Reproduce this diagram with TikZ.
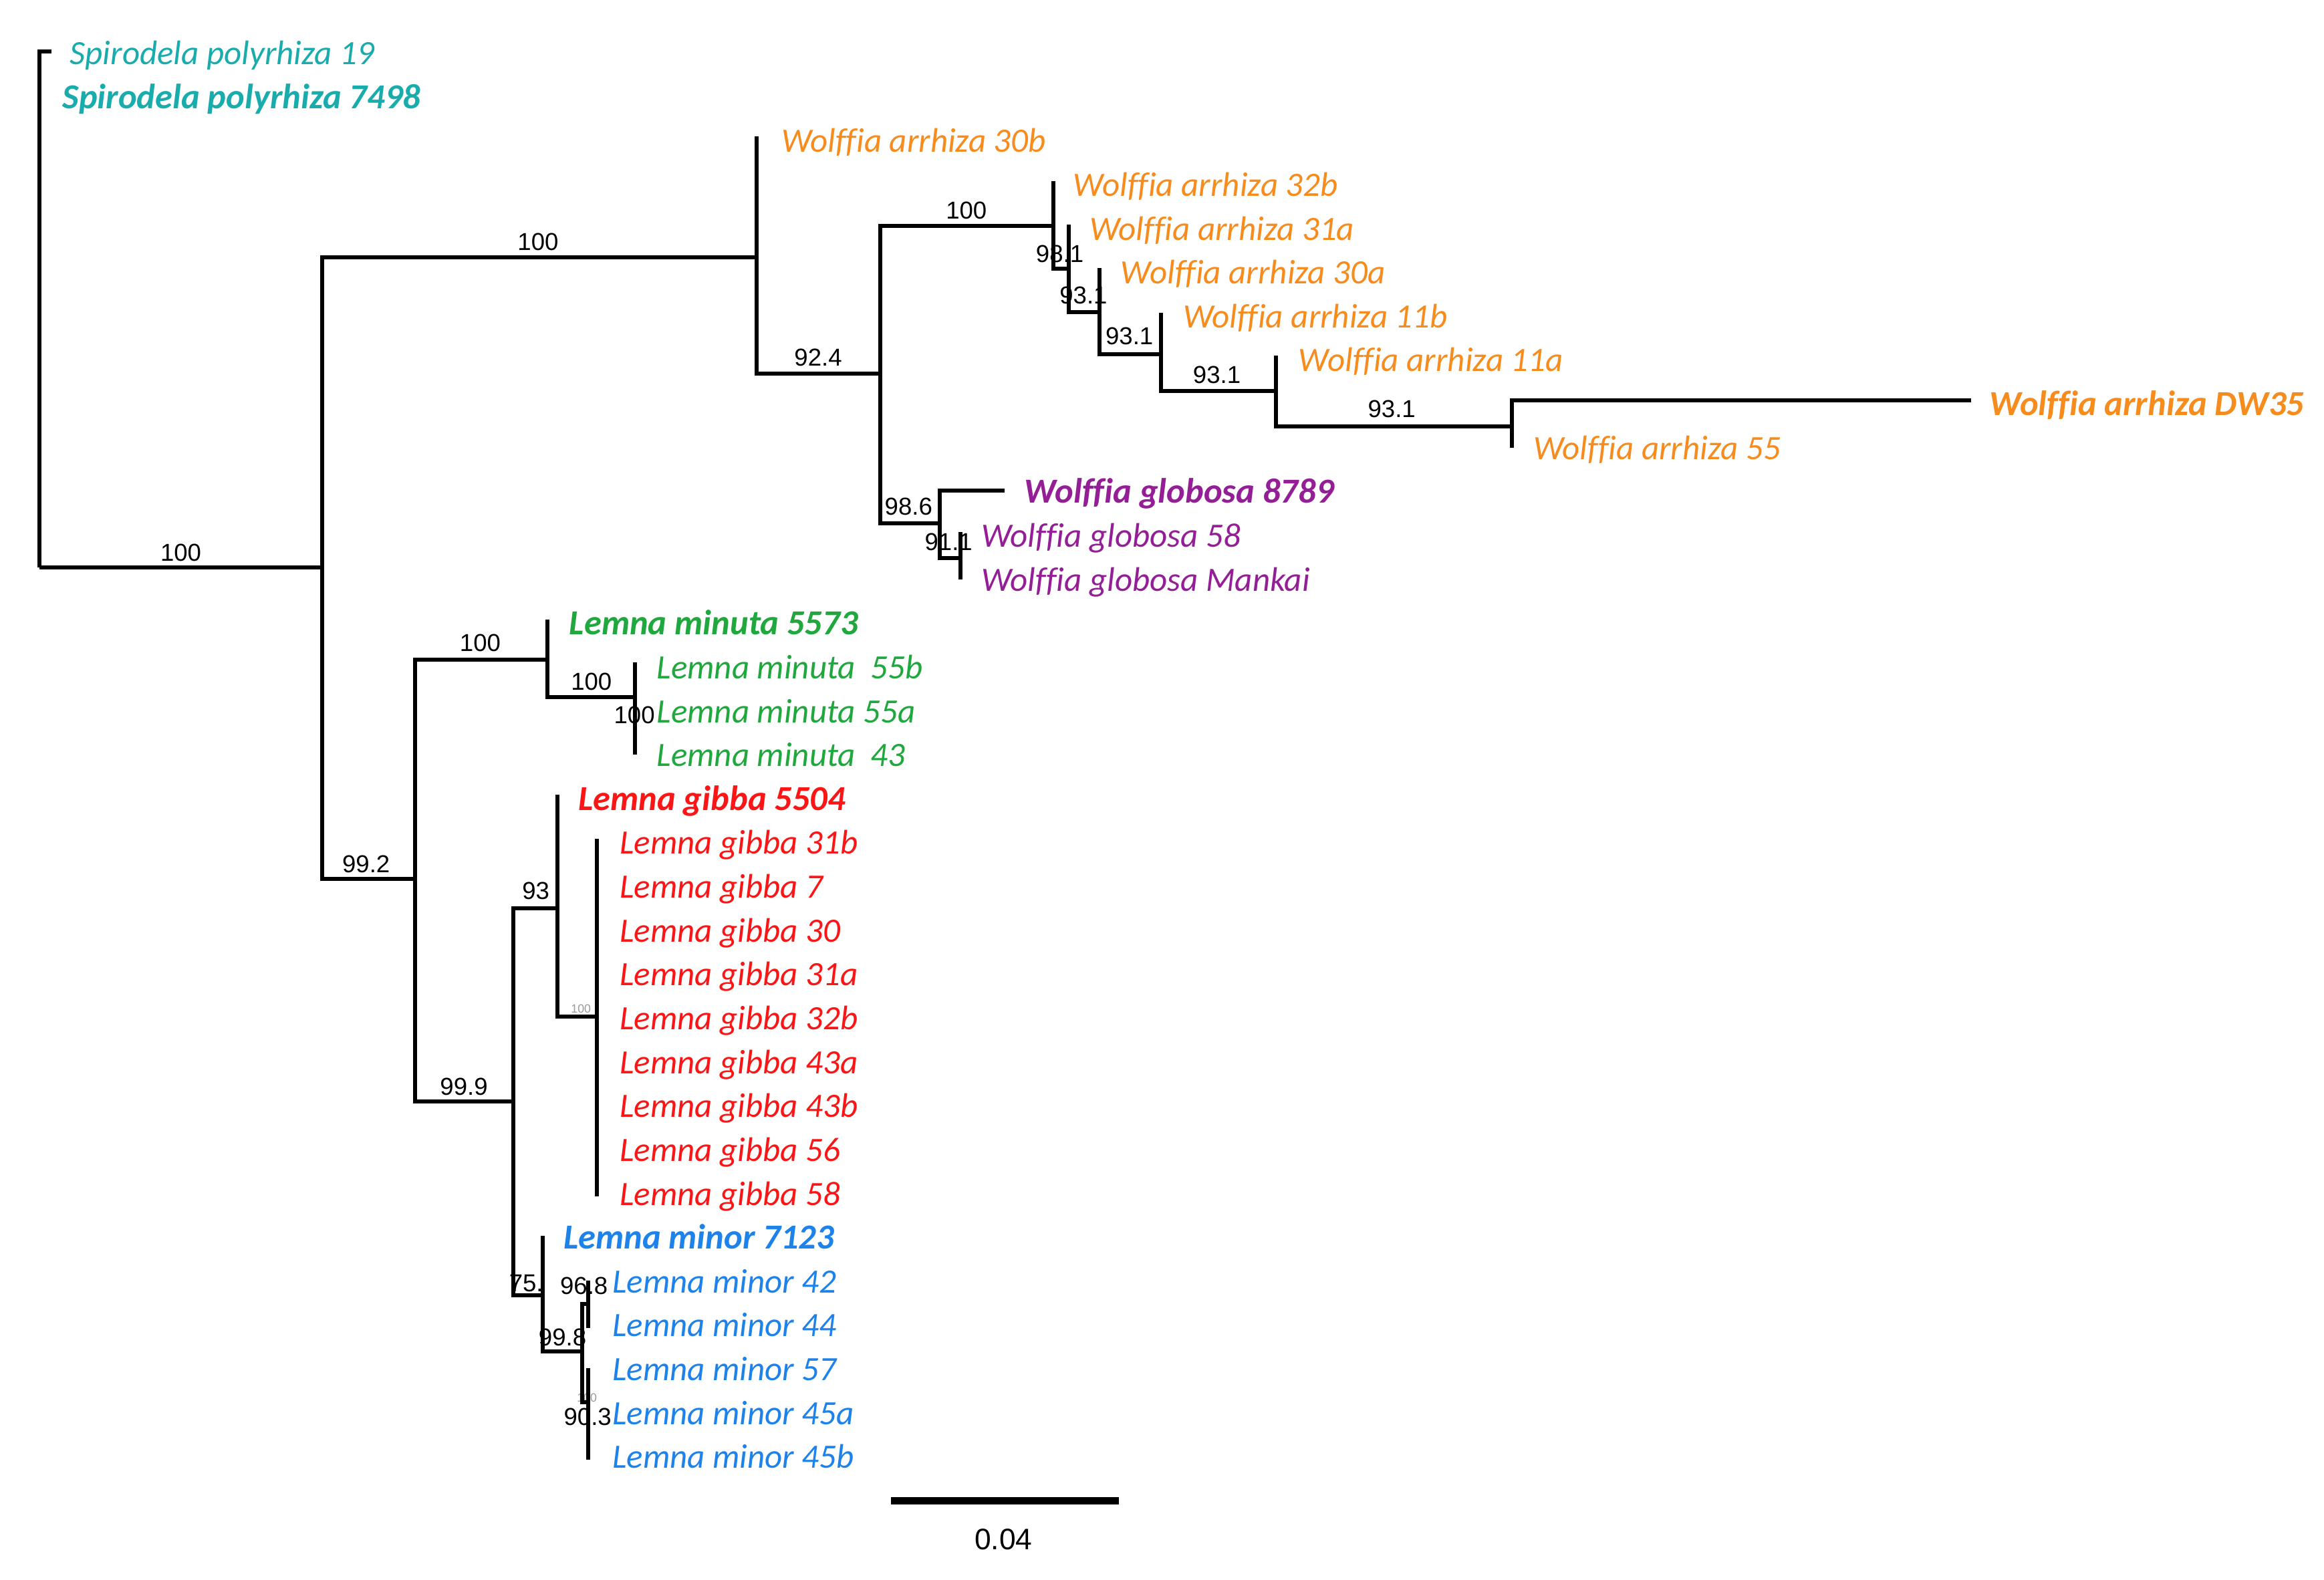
\documentclass[tikz,border=0pt]{standalone}
\usepackage{fontspec}
\setmainfont[Ligatures=NoCommon]{Carlito}
\newfontfamily\numfont{Liberation Sans}
\usetikzlibrary{positioning}

\definecolor{spcol}{RGB}{26,172,172}
\definecolor{wacol}{RGB}{247,140,30}
\definecolor{wgcol}{RGB}{148,30,150}
\definecolor{lncol}{RGB}{32,168,62}
\definecolor{lgcol}{RGB}{250,22,22}
\definecolor{lmcol}{RGB}{30,130,235}

\begin{document}
\begin{tikzpicture}[
 x=1pt,y=-1pt,
 branch/.style={draw=black,line width=2.7pt},
 leaf/.style={anchor=base west,inner sep=0pt,font=\fontsize{23}{23}\selectfont\itshape},
 keyleaf/.style={leaf,font=\fontsize{23.7}{23.7}\selectfont\itshape\bfseries},
 boot/.style={inner sep=0pt,font=\numfont\fontsize{16.5}{16.5}\selectfont},
 tinyboot/.style={inner sep=0pt,text=black!40,font=\numfont\fontsize{8}{8}\selectfont}
]
\useasboundingbox (0,0) rectangle (1568,1066);

% tree nodes and tips
\coordinate (root) at (26.5,383);
\coordinate (tSp19) at (34.5,34.5);
\coordinate (tSp7498) at (26.5,62);
\coordinate (nA) at (217.5,383);
\coordinate (nW) at (510.5,173.5);
\coordinate (tWa30b) at (510.5,92);
\coordinate (nW2) at (594,252);
\coordinate (nW3) at (710.5,152.5);
\coordinate (tWa32b) at (710.5,122);
\coordinate (nW4) at (721,181.5);
\coordinate (tWa31a) at (721,151.5);
\coordinate (nW5) at (742,210.5);
\coordinate (tWa30a) at (742,181);
\coordinate (nW6) at (783.5,239);
\coordinate (tWa11b) at (783.5,211);
\coordinate (nW7) at (861,264);
\coordinate (tWa11a) at (861,240);
\coordinate (nW8) at (1020,287.5);
\coordinate (tWaDW35) at (1330,270);
\coordinate (tWa55) at (1020,302);
\coordinate (nG1) at (634,353);
\coordinate (tWg8789) at (678,331);
\coordinate (nG2) at (648,376.5);
\coordinate (tWg58) at (648,359);
\coordinate (tWgMankai) at (648,391);
\coordinate (nL) at (280,593);
\coordinate (nM) at (369.5,445);
\coordinate (tLn5573) at (369.5,418);
\coordinate (nM2) at (428.5,470.5);
\coordinate (tLn55b) at (428.5,447);
\coordinate (tLn55a) at (428.5,480);
\coordinate (tLn43) at (428.5,509);
\coordinate (nP) at (346.5,743);
\coordinate (nN93) at (376,613);
\coordinate (tLg5504) at (376,536);
\coordinate (nGb) at (402.5,686);
\coordinate (tLg31b) at (402.5,566);
\coordinate (tLg7) at (402.5,598.4);
\coordinate (tLg30) at (402.5,628);
\coordinate (tLg31a) at (402.5,657.6);
\coordinate (tLg32b) at (402.5,687.2);
\coordinate (tLg43a) at (402.5,716.8);
\coordinate (tLg43b) at (402.5,746.4);
\coordinate (tLg56) at (402.5,776);
\coordinate (tLg58) at (402.5,807);
\coordinate (nN75) at (366,874);
\coordinate (tLm7123) at (366,834);
\coordinate (nN998) at (393,912);
\coordinate (nN968) at (397,880);
\coordinate (tLm42) at (397,864);
\coordinate (tLm44) at (397,896);
\coordinate (nN903) at (397,946);
\coordinate (tLm57) at (397,923);
\coordinate (tLm45a) at (397,953);
\coordinate (tLm45b) at (397,985);

% support values
\node[boot] (bA) at (122,373) {100};
\node[boot] (bW) at (363,163) {100};
\node[boot] (bW2) at (552,241) {92.4};
\node[boot] (bW3) at (652,142) {100};
\node[boot] (bW4) at (715,171.5) {98.1};
\node[boot] (bW5) at (731,199.5) {93.1};
\node[boot] (bW6) at (762,227) {93.1};
\node[boot] (bW7) at (821,253) {93.1};
\node[boot] (bW8) at (939,276) {93.1};
\node[boot] (bG1) at (613,342) {98.6};
\node[boot] (bG2) at (640,365.5) {91.1};
\node[boot] (bL) at (247,583) {99.2};
\node[boot] (bM) at (324,434) {100};
\node[boot] (bM2) at (399,460) {100};
\node[boot] (bM3) at (428,482.5) {100};
\node[boot] (bN93) at (361.5,601) {93};
\node[tinyboot] (bGb) at (392,680.5) {100};
\node[boot] (bP) at (313,733) {99.9};
\node[boot] (bN75) at (355,866) {75.};
\node[boot] (bN968) at (394,867.5) {96.8};
\node[boot] (bN998) at (379.5,902.5) {99.8};
\node[tinyboot] (bN45) at (396,943) {100};
\node[boot] (bN903) at (396.5,956) {90.3};

% branches
\draw[branch] (root) |- (tSp19);
\draw[branch] (root) |- (tSp7498);
\draw[branch] (root) |- (nA);
\draw[branch] (nA) |- (nW);
\draw[branch] (nA) |- (nL);
\draw[branch] (nW) |- (tWa30b);
\draw[branch] (nW) |- (nW2);
\draw[branch] (nW2) |- (nW3);
\draw[branch] (nW2) |- (nG1);
\draw[branch] (nW3) |- (tWa32b);
\draw[branch] (nW3) |- (nW4);
\draw[branch] (nW4) |- (tWa31a);
\draw[branch] (nW4) |- (nW5);
\draw[branch] (nW5) |- (tWa30a);
\draw[branch] (nW5) |- (nW6);
\draw[branch] (nW6) |- (tWa11b);
\draw[branch] (nW6) |- (nW7);
\draw[branch] (nW7) |- (tWa11a);
\draw[branch] (nW7) |- (nW8);
\draw[branch] (nW8) |- (tWaDW35);
\draw[branch] (nW8) |- (tWa55);
\draw[branch] (nG1) |- (tWg8789);
\draw[branch] (nG1) |- (nG2);
\draw[branch] (nG2) |- (tWg58);
\draw[branch] (nG2) |- (tWgMankai);
\draw[branch] (nL) |- (nM);
\draw[branch] (nL) |- (nP);
\draw[branch] (nM) |- (tLn5573);
\draw[branch] (nM) |- (nM2);
\draw[branch] (nM2) |- (tLn55b);
\draw[branch] (nM2) |- (tLn55a);
\draw[branch] (nM2) |- (tLn43);
\draw[branch] (nP) |- (nN93);
\draw[branch] (nP) |- (nN75);
\draw[branch] (nN93) |- (tLg5504);
\draw[branch] (nN93) |- (nGb);
\draw[branch] (nGb) |- (tLg31b);
\draw[branch] (nGb) |- (tLg7);
\draw[branch] (nGb) |- (tLg30);
\draw[branch] (nGb) |- (tLg31a);
\draw[branch] (nGb) |- (tLg32b);
\draw[branch] (nGb) |- (tLg43a);
\draw[branch] (nGb) |- (tLg43b);
\draw[branch] (nGb) |- (tLg56);
\draw[branch] (nGb) |- (tLg58);
\draw[branch] (nN75) |- (tLm7123);
\draw[branch] (nN75) |- (nN998);
\draw[branch] (nN998) |- (nN968);
\draw[branch] (nN998) |- (nN903);
\draw[branch] (nN968) |- (tLm42);
\draw[branch] (nN968) |- (tLm44);
\draw[branch] (nN903) |- (tLm57);
\draw[branch] (nN903) |- (tLm45a);
\draw[branch] (nN903) |- (tLm45b);

% taxon labels
\node[leaf,text=spcol] (lSp19) at (47,43.5) {Spirodela polyrhiza 19};
\node[keyleaf,text=spcol] (lSp7498) at (42,73.1) {Spirodela polyrhiza 7498};
\node[leaf,text=wacol] (lWa30b) at (527,102.7) {Wolffia arrhiza 30b};
\node[leaf,text=wacol] (lWa32b) at (724,132.3) {Wolffia arrhiza 32b};
\node[leaf,text=wacol] (lWa31a) at (735,161.9) {Wolffia arrhiza 31a};
\node[leaf,text=wacol] (lWa30a) at (756,191.5) {Wolffia arrhiza 30a};
\node[leaf,text=wacol] (lWa11b) at (798,221.1) {Wolffia arrhiza 11b};
\node[leaf,text=wacol] (lWa11a) at (876,250.7) {Wolffia arrhiza 11a};
\node[keyleaf,text=wacol] (lWaDW35) at (1342,280.3) {Wolffia arrhiza DW35};
\node[leaf,text=wacol] (lWa55) at (1034.5,309.9) {Wolffia arrhiza 55};
\node[keyleaf,text=wgcol] (lWg8789) at (691,339.5) {Wolffia globosa 8789};
\node[leaf,text=wgcol] (lWg58) at (662,369.1) {Wolffia globosa 58};
\node[leaf,text=wgcol] (lWgMankai) at (662,398.7) {Wolffia globosa Mankai};
\node[keyleaf,text=lncol] (lLn5573) at (384,428.3) {Lemna minuta 5573};
\node[leaf,text=lncol] (lLn55b) at (443,457.9) {Lemna minuta\ \ 55b};
\node[leaf,text=lncol] (lLn55a) at (443,487.5) {Lemna minuta 55a};
\node[leaf,text=lncol] (lLn43) at (443,517.1) {Lemna minuta\ \ 43};
\node[keyleaf,text=lgcol] (lLg5504) at (390,546.7) {Lemna gibba 5504};
\node[leaf,text=lgcol] (lLg31b) at (418,576.3) {Lemna gibba 31b};
\node[leaf,text=lgcol] (lLg7) at (418,605.9) {Lemna gibba 7};
\node[leaf,text=lgcol] (lLg30) at (418,635.5) {Lemna gibba 30};
\node[leaf,text=lgcol] (lLg31a) at (418,665.1) {Lemna gibba 31a};
\node[leaf,text=lgcol] (lLg32b) at (418,694.7) {Lemna gibba 32b};
\node[leaf,text=lgcol] (lLg43a) at (418,724.3) {Lemna gibba 43a};
\node[leaf,text=lgcol] (lLg43b) at (418,753.9) {Lemna gibba 43b};
\node[leaf,text=lgcol] (lLg56) at (418,783.5) {Lemna gibba 56};
\node[leaf,text=lgcol] (lLg58) at (418,813.1) {Lemna gibba 58};
\node[keyleaf,text=lmcol] (lLm7123) at (380,842.7) {Lemna minor 7123};
\node[leaf,text=lmcol] (lLm42) at (413,872.3) {Lemna minor 42};
\node[leaf,text=lmcol] (lLm44) at (413,901.9) {Lemna minor 44};
\node[leaf,text=lmcol] (lLm57) at (413,931.5) {Lemna minor 57};
\node[leaf,text=lmcol] (lLm45a) at (413,961.1) {Lemna minor 45a};
\node[leaf,text=lmcol] (lLm45b) at (413,990.7) {Lemna minor 45b};

% scale bar
\coordinate (sbL) at (601,1012.5);
\coordinate (sbR) at (755,1012.5);
\draw[line width=5pt] (sbL) -- (sbR);
\node[boot,font=\numfont\fontsize{20}{20}\selectfont] (sbLab) at (677,1038.6) {0.04};
\end{tikzpicture}
\end{document}
